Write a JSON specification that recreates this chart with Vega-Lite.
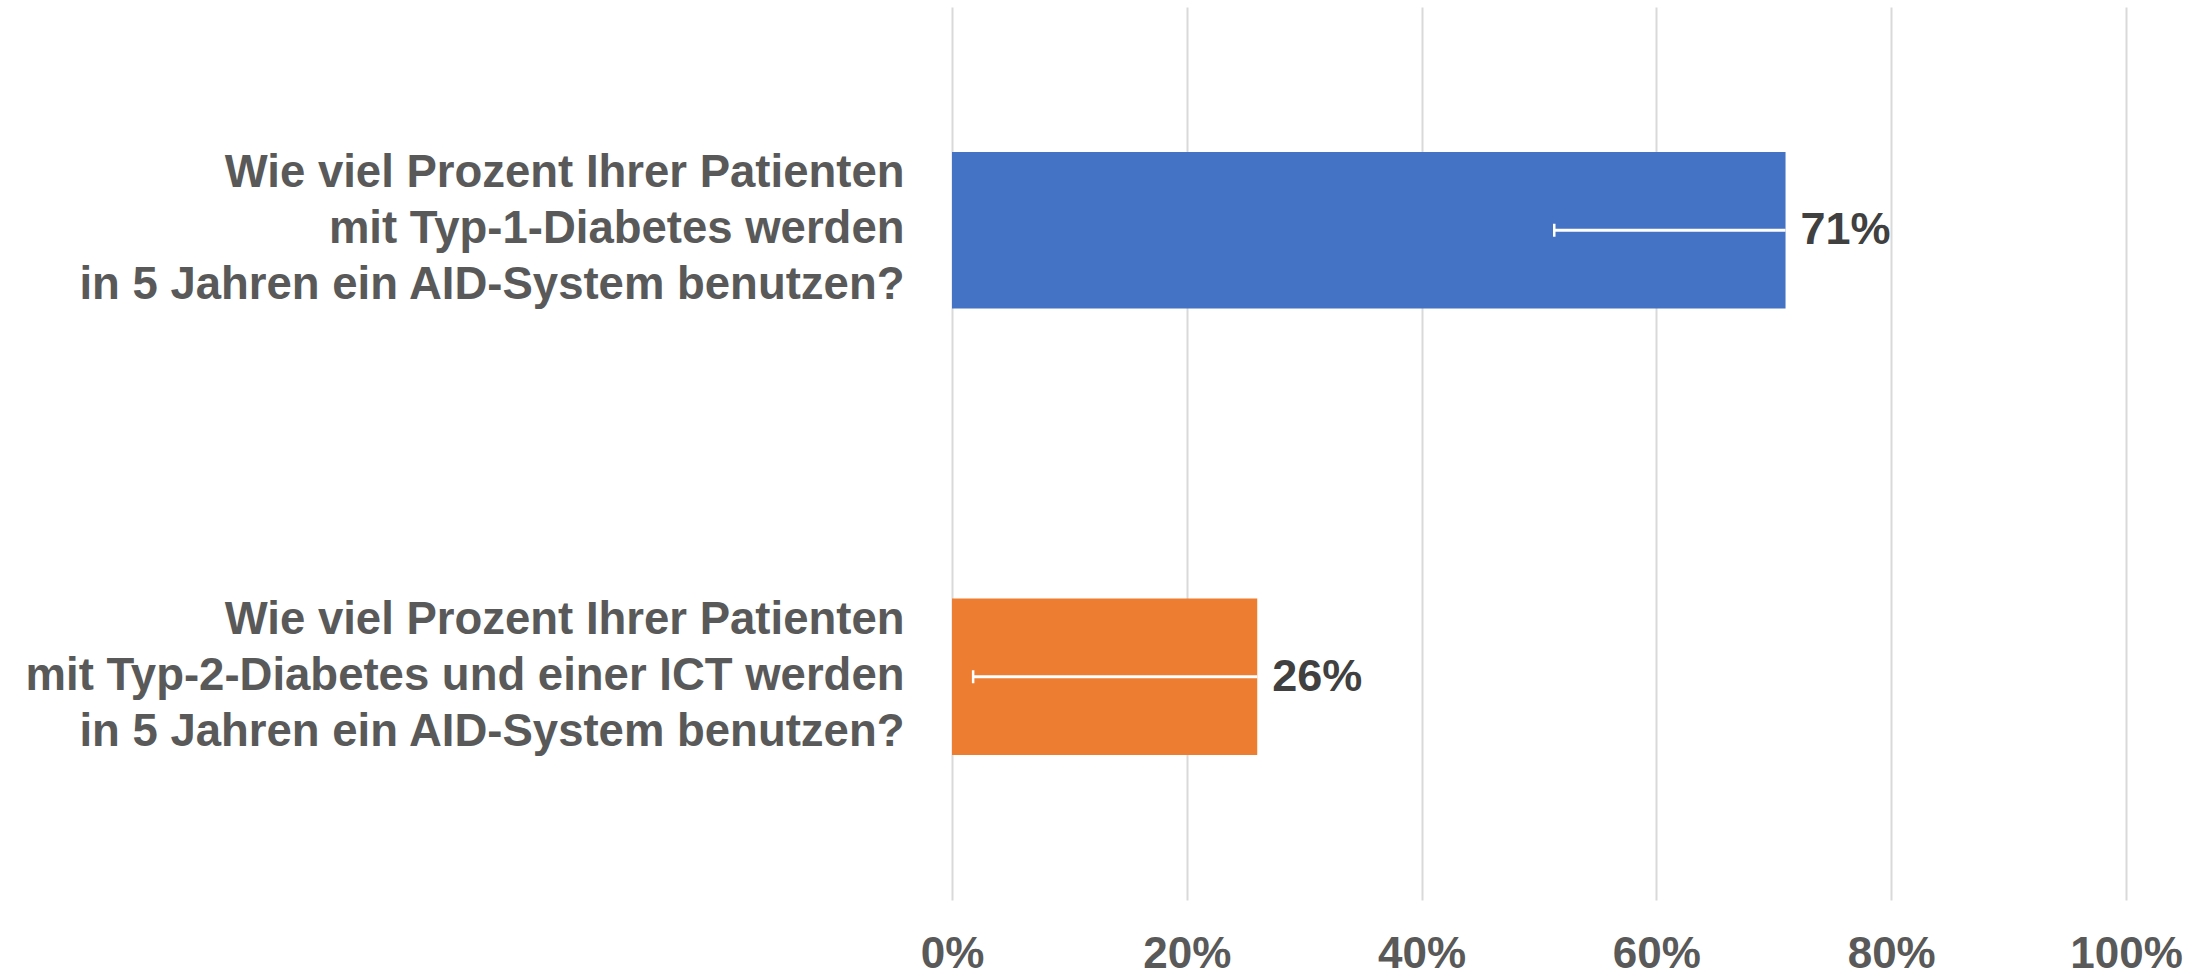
{
  "$schema": "https://vega.github.io/schema/vega-lite/v6.json",
  "width": 1174,
  "height": 893,
  "autosize": {"type": "none"},
  "padding": {"left": 952, "top": 7, "right": 85, "bottom": 78},
  "background": "white",
  "config": {"view": {"stroke": null}, "font": "Liberation Sans"},
  "data": {
    "values": [
      {"frage": "Wie viel Prozent Ihrer Patienten|mit Typ-1-Diabetes werden|in 5 Jahren ein AID-System benutzen?", "gruppe": "Typ 1", "wert": 0.71, "unten": 0.513},
      {"frage": "Wie viel Prozent Ihrer Patienten|mit Typ-2-Diabetes und einer ICT werden|in 5 Jahren ein AID-System benutzen?", "gruppe": "Typ 2", "wert": 0.26, "unten": 0.018}
    ]
  },
  "encoding": {
    "y": {
      "field": "frage",
      "type": "nominal",
      "sort": null,
      "scale": {"paddingInner": 0.65, "paddingOuter": 0.325},
      "axis": {
        "title": null,
        "domain": false,
        "ticks": false,
        "grid": false,
        "labelFontSize": 45.5,
        "labelFontWeight": "bold",
        "labelColor": "#595959",
        "labelPadding": 48,
        "labelLineHeight": 56,
        "labelOffset": -57,
        "labelLimit": 1000,
        "labelExpr": "split(datum.label, '|')"
      }
    }
  },
  "layer": [
    {
      "mark": {"type": "bar"},
      "encoding": {
        "x": {
          "field": "wert",
          "type": "quantitative",
          "scale": {"domain": [0, 1]},
          "axis": {
            "title": null,
            "values": [0, 0.2, 0.4, 0.6, 0.8, 1],
            "format": ".0%",
            "grid": true,
            "gridColor": "#D9D9D9",
            "gridWidth": 2,
            "domain": false,
            "ticks": false,
            "labelFontSize": 44,
            "labelFontWeight": "bold",
            "labelColor": "#595959",
            "labelPadding": 32.5,
            "labelFlush": false,
            "labelOverlap": false
          }
        },
        "color": {
          "field": "gruppe",
          "type": "nominal",
          "scale": {"range": ["#4472C4", "#ED7D31"]},
          "legend": null
        }
      }
    },
    {
      "mark": {"type": "rule", "color": "white", "strokeWidth": 3},
      "encoding": {
        "x": {"field": "unten", "type": "quantitative"},
        "x2": {"field": "wert"}
      }
    },
    {
      "mark": {"type": "tick", "orient": "vertical", "color": "white", "size": 13, "thickness": 2.5, "opacity": 1},
      "encoding": {
        "x": {"field": "unten", "type": "quantitative"}
      }
    },
    {
      "mark": {"type": "text", "align": "left", "baseline": "middle", "dx": 15, "fontSize": 45, "fontWeight": "bold", "color": "#404040"},
      "encoding": {
        "x": {"field": "wert", "type": "quantitative"},
        "text": {"field": "wert", "type": "quantitative", "format": ".0%"}
      }
    }
  ]
}
